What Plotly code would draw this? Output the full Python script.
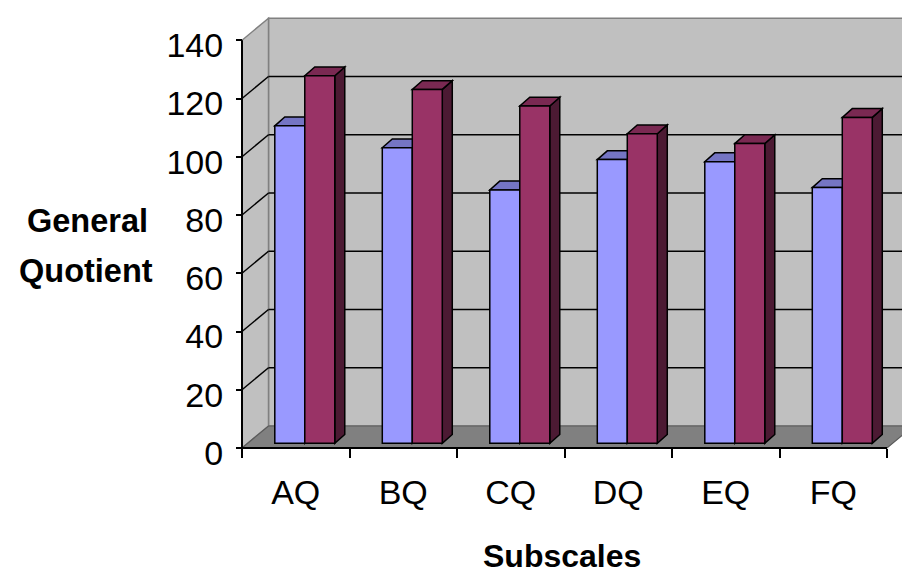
import plotly.graph_objects as go

# ---- data -------------------------------------------------------------
categories = ["AQ", "BQ", "CQ", "DQ", "EQ", "FQ"]
group_a = [109.0, 101.5, 87.0, 97.4, 96.7, 87.8]
group_b = [126.2, 121.5, 115.8, 106.3, 102.9, 111.9]
y_ticks = [0, 20, 40, 60, 80, 100, 120, 140]

# ---- geometry (pixels) --------------------------------------------------
FIG_W, FIG_H = 902, 574
PLOT_L, PLOT_R, PLOT_T, PLOT_B = 236, 902, 8, 454
AXIS_X_PX = 242          # front value axis
AXIS_Y_PX = 448          # front floor edge (value 0)
PX_PER_CAT = 107.5
PX_PER_UNIT = 2.9125

x_lo = -0.5 - (AXIS_X_PX - PLOT_L) / PX_PER_CAT
x_hi = -0.5 + (PLOT_R - AXIS_X_PX) / PX_PER_CAT
y_lo = -(PLOT_B - AXIS_Y_PX) / PX_PER_UNIT
y_hi = (AXIS_Y_PX - PLOT_T) / PX_PER_UNIT

# oblique depth of the walls and of the bars, in data units
WALL_DX = 26.5 / PX_PER_CAT
WALL_DY = 22.0 / PX_PER_UNIT
BAR_DX = 10.0 / PX_PER_CAT
BAR_DY = 8.8 / PX_PER_UNIT
BAR_BASE = 4.7 / PX_PER_UNIT
BAR_W = 0.279
OFFSETS = [-0.195, 0.084]

FRONT = ["#9999FF", "#993366"]
TOP = ["#7575C4", "#7A2952"]
SIDE = ["#5C5C99", "#4C1A33"]

Y_MAX = y_ticks[-1]
X_LEFT = -0.5
X_RIGHT = len(categories) - 0.5


def path(pts):
    return "M " + " L ".join(f"{x},{y}" for x, y in pts) + " Z"


def poly(pts, fill, line="black", width=1.5):
    return dict(type="path", xref="x", yref="y", layer="below", path=path(pts),
                fillcolor=fill, line=dict(color=line, width=width))


def seg(x0, y0, x1, y1, color="black", width=1.5):
    return dict(type="line", xref="x", yref="y", layer="below",
                x0=x0, y0=y0, x1=x1, y1=y1, line=dict(color=color, width=width))


shapes = []
bx = X_LEFT + WALL_DX
far = x_hi + 1.0

# back wall
shapes.append(poly([(bx, WALL_DY), (far, WALL_DY), (far, Y_MAX + WALL_DY), (bx, Y_MAX + WALL_DY)],
                   "#C0C0C0", "#808080", 1.5))
# left wall
shapes.append(poly([(X_LEFT, 0), (X_LEFT, Y_MAX), (bx, Y_MAX + WALL_DY), (bx, WALL_DY)],
                   "#C0C0C0", "#808080", 1.5))
# gridlines on back wall and left wall
for v in y_ticks[1:-1]:
    shapes.append(seg(bx, v + WALL_DY, far, v + WALL_DY))
    shapes.append(seg(X_LEFT, v, bx, v + WALL_DY))
# floor
shapes.append(poly([(X_LEFT, 0), (X_RIGHT, 0), (X_RIGHT + WALL_DX, WALL_DY), (bx, WALL_DY)],
                   "#808080", "#5A5A5A", 1.2))
# front axis lines
shapes.append(seg(X_LEFT, 0, X_LEFT, Y_MAX, "black", 2))
shapes.append(seg(X_LEFT, 0, X_RIGHT, 0, "black", 2))

# top and side faces of the columns
for s, vals in enumerate([group_a, group_b]):
    for i, v in enumerate(vals):
        x0 = i + OFFSETS[s]
        x1 = x0 + BAR_W
        top = BAR_BASE + v
        shapes.append(poly([(x1, BAR_BASE), (x1, top), (x1 + BAR_DX, top + BAR_DY),
                            (x1 + BAR_DX, BAR_BASE + BAR_DY)], SIDE[s]))
        shapes.append(poly([(x0, top), (x1, top), (x1 + BAR_DX, top + BAR_DY),
                            (x0 + BAR_DX, top + BAR_DY)], TOP[s]))

fig = go.Figure()
for s, (vals, name) in enumerate([(group_a, "Group A"), (group_b, "Group B")]):
    fig.add_trace(go.Bar(
        x=list(range(len(categories))), y=vals, base=BAR_BASE,
        offset=OFFSETS[s], width=BAR_W, name=name,
        marker=dict(color=FRONT[s], line=dict(color="black", width=1.5)),
        hoverinfo="skip",
    ))

PW = PLOT_R - PLOT_L
PH = PLOT_B - PLOT_T


def px_x(px):
    return (px - PLOT_L) / PW


def px_y(py):
    return (PLOT_B - py) / PH


FONT = "Liberation Sans, Arial, sans-serif"

fig.update_layout(
    width=FIG_W, height=FIG_H,
    margin=dict(l=PLOT_L, r=FIG_W - PLOT_R, t=PLOT_T, b=FIG_H - PLOT_B, pad=0),
    paper_bgcolor="white", plot_bgcolor="white",
    barmode="overlay", showlegend=False,
    shapes=shapes,
    font=dict(family=FONT, color="black"),
    xaxis=dict(
        range=[x_lo, x_hi], showgrid=False, zeroline=False, showline=False,
        tickvals=list(range(len(categories))), ticktext=categories, ticks="",
        tickfont=dict(size=34, family=FONT, color="black"),
        ticklabelstandoff=21,
        minor=dict(tickvals=[k - 0.5 for k in range(len(categories) + 1)],
                   ticks="outside", ticklen=9, tickwidth=1.5, tickcolor="black",
                   showgrid=False),
        anchor="free", position=px_y(AXIS_Y_PX),
    ),
    yaxis=dict(
        range=[y_lo, y_hi], showgrid=False, zeroline=False, showline=False,
        tickvals=y_ticks, ticks="outside", ticklen=6, tickwidth=1.5, tickcolor="black",
        tickfont=dict(size=34, family=FONT, color="black"),
        ticklabelstandoff=6, ticklabelshift=5,
        anchor="free", position=px_x(AXIS_X_PX),
    ),
    annotations=[
        dict(text="<b>General</b>", x=px_x(87), y=px_y(221), xref="paper", yref="paper",
             showarrow=False, xanchor="center", yanchor="middle",
             font=dict(size=32.5, family=FONT, color="black")),
        dict(text="<b>Quotient</b>", x=px_x(86), y=px_y(271), xref="paper", yref="paper",
             showarrow=False, xanchor="center", yanchor="middle",
             font=dict(size=32.5, family=FONT, color="black")),
        dict(text="<b>Subscales</b>", x=px_x(562), y=px_y(556), xref="paper", yref="paper",
             showarrow=False, xanchor="center", yanchor="middle",
             font=dict(size=32, family=FONT, color="black")),
    ],
)

fig.write_html("out.html")
